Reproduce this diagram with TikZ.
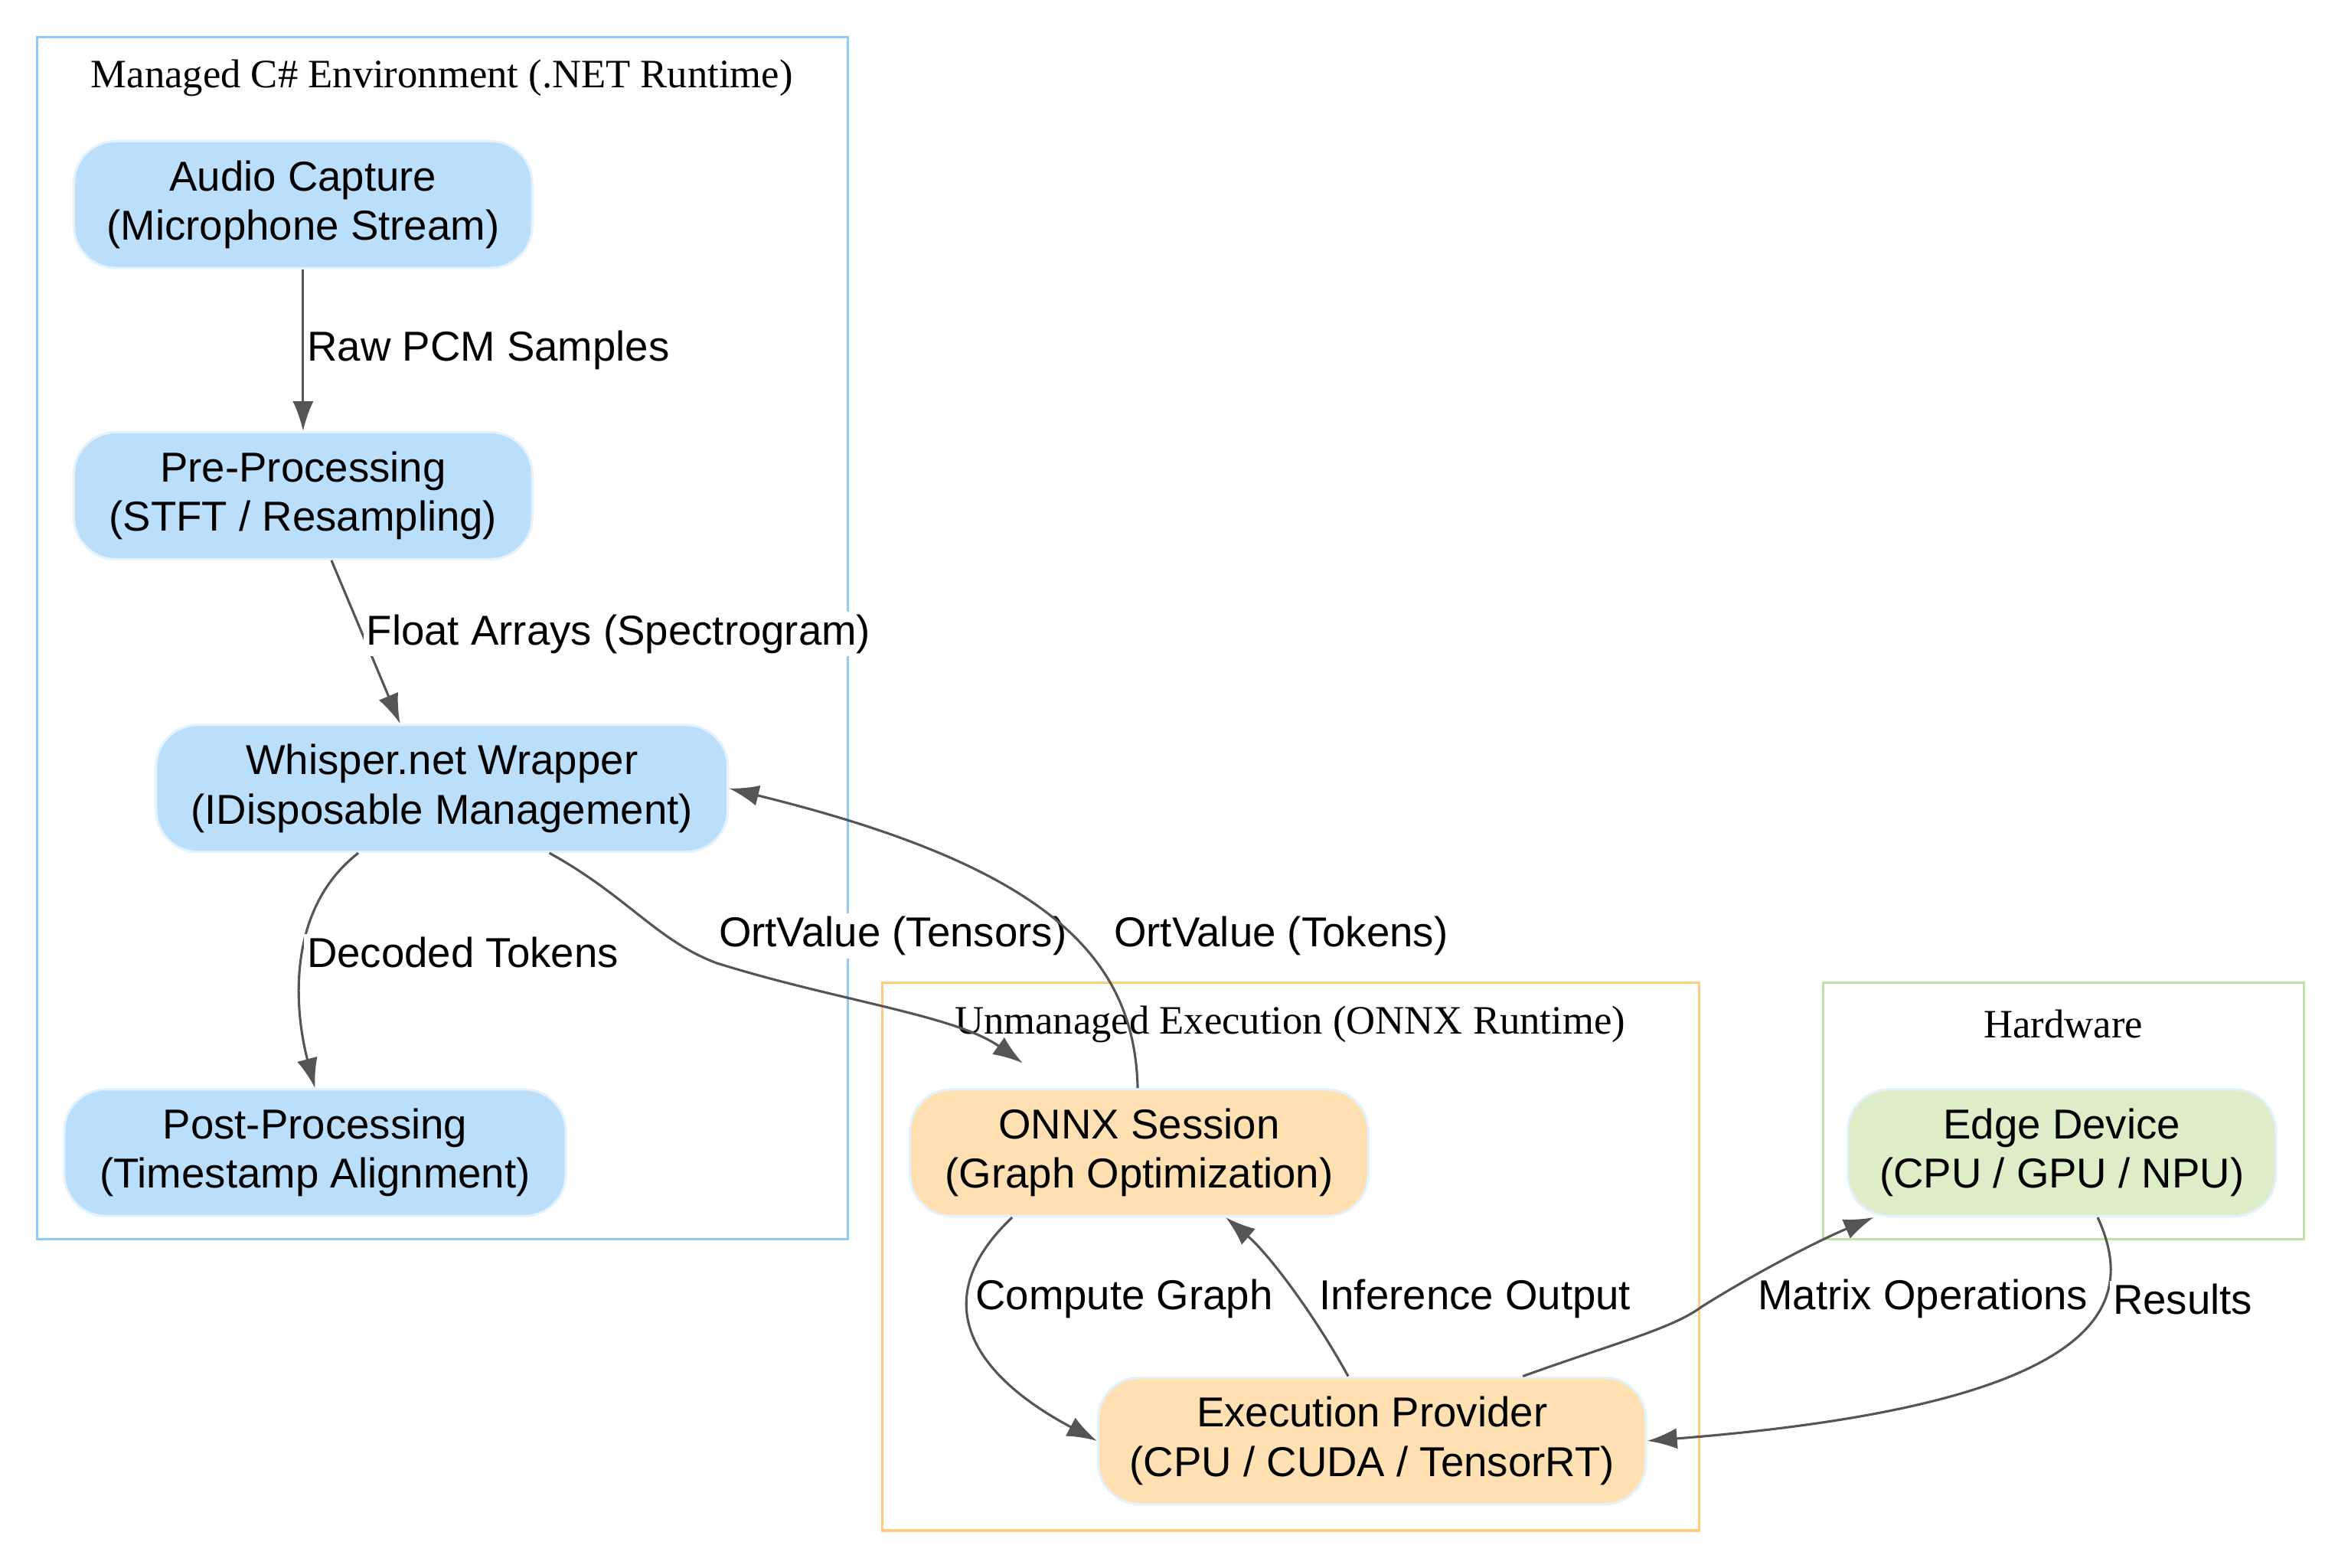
\documentclass[tikz,border=0pt]{standalone}
\usepackage{fontspec}
\setmainfont{Liberation Serif}
\newfontfamily\arialfont{Liberation Sans}
\usetikzlibrary{arrows.meta}
\definecolor{csblue}{HTML}{BBDEFB}
\definecolor{csorange}{HTML}{FFE0B2}
\definecolor{csgreen}{HTML}{DCEDC8}
\definecolor{nodeline}{HTML}{E3F2FD}
\definecolor{edgegray}{HTML}{555555}
\definecolor{bluebox}{HTML}{90CAF9}
\definecolor{orangebox}{HTML}{FFCC80}
\definecolor{greenbox}{HTML}{C5E1A5}
\tikzset{
  box/.style={draw=nodeline, line width=0.8pt, rounded corners=14pt, align=center,
    font=\arialfont\fontsize{14}{16.5}\selectfont, inner sep=0pt},
  managed/.style={box, fill=csblue},
  onnx/.style={box, fill=csorange},
  hw/.style={box, fill=csgreen},
  flow/.style={draw=edgegray, line width=0.8pt, -{Latex[length=10pt,width=7pt]}},
  lbl/.style={font=\arialfont\fontsize{14}{16}\selectfont, fill=white, inner sep=1pt},
  cluster/.style={line width=0.8pt},
  ctitle/.style={font=\fontsize{13.5}{16}\selectfont}
}
\begin{document}
\begin{tikzpicture}[x=0.5pt,y=-0.5pt]
	\useasboundingbox (0,0) rectangle (1566,1050);

	% clusters
	\draw[cluster, draw=bluebox] (25,25) rectangle (568,830);
	\draw[cluster, draw=orangebox] (591,658) rectangle (1138,1025);
	\draw[cluster, draw=greenbox] (1221,658) rectangle (1543,830);
	\node[ctitle] (tManaged) at (296,52) {Managed C\# Environment (.NET Runtime)};
	\node[ctitle] (tOnnx) at (864,686) {Unmanaged Execution (ONNX Runtime)};
	\node[ctitle] (tHw) at (1382,686) {Hardware};

	% nodes
	\node[managed, minimum width=153.5pt, minimum height=42.5pt] (audio) at (203,137) {Audio Capture\\(Microphone Stream)};
	\node[managed, minimum width=153.5pt, minimum height=42.5pt] (pre) at (203,332) {Pre-Processing\\(STFT / Resampling)};
	\node[managed, minimum width=191.5pt, minimum height=42.5pt] (whisper) at (296,528) {Whisper.net Wrapper\\(IDisposable Management)};
	\node[managed, minimum width=168pt, minimum height=42.5pt] (post) at (211,772) {Post-Processing\\(Timestamp Alignment)};
	\node[onnx, minimum width=153.5pt, minimum height=42.5pt] (session) at (763,772) {ONNX Session\\(Graph Optimization)};
	\node[onnx, minimum width=183.5pt, minimum height=42.5pt] (provider) at (919,965) {Execution Provider\\(CPU / CUDA / TensorRT)};
	\node[hw, minimum width=143.5pt, minimum height=42.5pt] (edge) at (1381,772) {Edge Device\\(CPU / GPU / NPU)};

	% connectors
	\draw[flow] (audio) -- node[lbl, right] {Raw PCM Samples} (pre);
	\draw[flow] ([xshift=9.5pt]pre.south) -- node[lbl, right, pos=0.45] {Float Arrays (Spectrogram)} ([xshift=-14pt]whisper.north);
	\draw[flow] ([xshift=-28pt]whisper.south) .. controls (190,610) and (198,680) .. node[lbl, right, pos=0.45] {Decoded Tokens} (post.north);
	\draw[flow] ([xshift=36pt]whisper.south) .. controls (420,600) and (440,630) .. (480,645) .. controls (560,670) and (640,680) .. (685,712);
	\node[lbl] (lTensors) at (598,627) {OrtValue (Tensors)};
	\draw[flow] ([xshift=-0.5pt]session.north) .. controls (760,640) and (700,580) .. (whisper.east);
	\node[lbl] (lTokens) at (858,627) {OrtValue (Tokens)};
	\draw[flow] ([xshift=-42.5pt]session.south) .. controls (620,870) and (650,920) .. (provider.west);
	\node[lbl] (lCompute) at (753,870) {Compute Graph};
	\draw[flow] ([xshift=-8pt]provider.north) .. controls (880,880) and (850,840) .. ([xshift=29pt]session.south);
	\node[lbl] (lInfer) at (988,870) {Inference Output};
	\draw[flow] ([xshift=50.5pt]provider.north) .. controls (1080,900) and (1120,890) .. (1140,875) .. controls (1180,850) and (1220,830) .. ([xshift=-63pt]edge.south);
	\node[lbl] (lMatrix) at (1288,870) {Matrix Operations};
	\draw[flow] ([xshift=12pt]edge.south) .. controls (1430,870) and (1420,940) .. (provider.east);
	\node[lbl] (lResults) at (1462,870) {Results};
\end{tikzpicture}
\end{document}
